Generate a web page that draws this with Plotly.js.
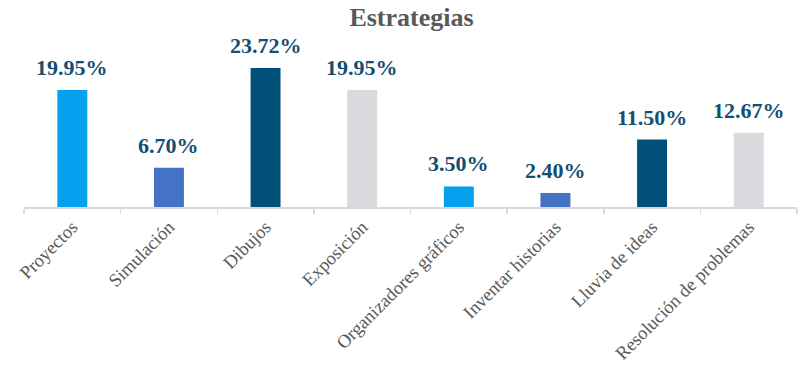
<!DOCTYPE html>
<html>
<head>
<meta charset="utf-8">
<script src="https://cdn.plot.ly/plotly-3.0.1.min.js"></script>
<style>html,body{margin:0;padding:0;background:#fff;}#chart{width:810px;height:367px;}</style>
</head>
<body>
<div id="chart"></div>
<script>
const categories = ["Proyectos", "Simulación", "Dibujos", "Exposición", "Organizadores gráficos", "Inventar historias", "Lluvia de ideas", "Resolución de problemas"];
const values = [19.95, 6.70, 23.72, 19.95, 3.50, 2.40, 11.50, 12.67];
const labels = ["19.95%", "6.70%", "23.72%", "19.95%", "3.50%", "2.40%", "11.50%", "12.67%"];
const colors = ["#03A1EE", "#4472C4", "#00507A", "#D9DBDF", "#03A1EE", "#4472C4", "#00507A", "#D9DBDF"];

const serif = "Liberation Serif";

const trace = {
  type: "bar",
  x: categories,
  y: values,
  marker: {color: colors},
  hoverinfo: "none"
};

const annotations = categories.map((c, i) => ({
  x: c, y: values[i], xref: "x", yref: "y",
  text: "<b>" + labels[i] + "</b>", showarrow: false,
  yanchor: "bottom", yshift: 8,
  font: {family: serif, size: 22, color: "#134F72"}
}));

const layout = {
  width: 810, height: 367,
  margin: {l: 24, r: 13, t: 40, b: 160},
  paper_bgcolor: "#fff", plot_bgcolor: "#fff",
  title: {text: "<b>Estrategias</b>", x: 0.508, xanchor: "center", y: 0.955, yanchor: "middle", yref: "container",
          font: {family: serif, size: 26, color: "#595959"}},
  bargap: 0.69,
  showlegend: false,
  xaxis: {
    type: "category",
    tickangle: -45,
    tickson: "boundaries",
    ticks: "outside", ticklen: 5, tickcolor: "#D9D9D9", tickwidth: 1.5,
    showline: true, linecolor: "#D9D9D9", linewidth: 2,
    showgrid: false,
    tickfont: {family: serif, size: 18.5, color: "#595959"}
  },
  yaxis: {range: [0, 28.5], visible: false, showgrid: false, zeroline: false},
  annotations: annotations
};

Plotly.newPlot("chart", [trace], layout, {displayModeBar: false, staticPlot: true});
</script>
</body>
</html>
